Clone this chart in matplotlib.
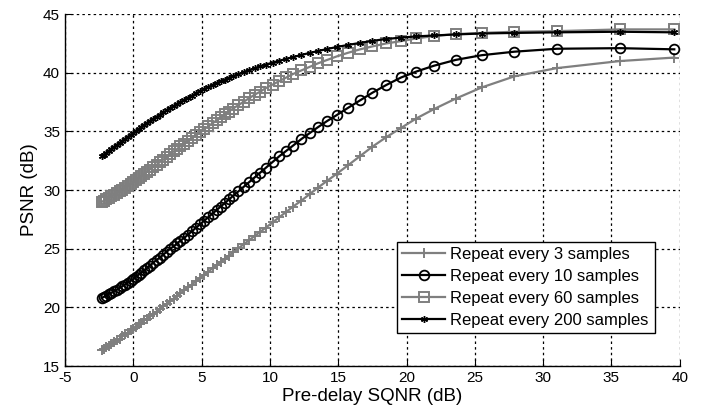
import numpy as np
import matplotlib
matplotlib.use("Agg")
from matplotlib import pyplot as plt

plt.rcParams['font.family'] = ['Liberation Sans', 'DejaVu Sans']
plt.rcParams['axes.unicode_minus'] = False

# pre-delay SQNR (dB), shared by all four curves
sqnr = [39.6, 35.6, 31.0, 27.9, 25.5, 23.6, 22.0, 20.7, 19.6, 18.5,
        17.5, 16.6, 15.7, 14.9, 14.2, 13.5, 12.9, 12.3, 11.7, 11.2,
        10.7, 10.2, 9.7, 9.3, 8.9, 8.5, 8.1, 7.7, 7.3, 7.0,
        6.7, 6.4, 6.1, 5.8, 5.5, 5.2, 4.9, 4.6, 4.3, 4.0,
        3.7, 3.45, 3.2, 2.95, 2.7, 2.45, 2.2, 1.95, 1.7, 1.45,
        1.2, 1.0, 0.8, 0.6, 0.4, 0.2, 0.0, -0.2, -0.4, -0.6,
        -0.8, -1.0, -1.2, -1.4, -1.6, -1.8, -2.0, -2.15, -2.3]

psnr_3 = [41.3, 41.0, 40.4, 39.7, 38.75, 37.8, 36.9, 36.1, 35.3, 34.5,
          33.7, 32.9, 32.1, 31.4, 30.8, 30.2, 29.65, 29.1, 28.6, 28.15,
          27.7, 27.25, 26.8, 26.45, 26.1, 25.75, 25.4, 25.05, 24.7, 24.4,
          24.15, 23.9, 23.6, 23.35, 23.05, 22.8, 22.5, 22.25, 21.95, 21.7,
          21.45, 21.2, 21.0, 20.75, 20.55, 20.3, 20.1, 19.9, 19.65, 19.45,
          19.25, 19.05, 18.9, 18.7, 18.55, 18.35, 18.2, 18.05, 17.85, 17.7,
          17.55, 17.35, 17.2, 17.05, 16.9, 16.75, 16.6, 16.45, 16.35]

psnr_10 = [42.0, 42.1, 42.05, 41.8, 41.5, 41.1, 40.6, 40.1, 39.6, 38.95,
           38.3, 37.65, 37.0, 36.4, 35.9, 35.35, 34.85, 34.35, 33.8, 33.35,
           32.9, 32.4, 31.9, 31.5, 31.1, 30.7, 30.3, 29.9, 29.5, 29.2,
           28.9, 28.6, 28.3, 28.0, 27.7, 27.4, 27.1, 26.8, 26.5, 26.2,
           25.9, 25.7, 25.45, 25.2, 25.0, 24.75, 24.5, 24.25, 24.05, 23.8,
           23.55, 23.35, 23.15, 22.95, 22.8, 22.6, 22.4, 22.25, 22.1, 21.95,
           21.8, 21.65, 21.5, 21.4, 21.25, 21.15, 21.0, 20.9, 20.8]

psnr_60 = [43.7, 43.7, 43.55, 43.5, 43.4, 43.3, 43.13, 42.93, 42.7, 42.5,
           42.25, 42.0, 41.7, 41.4, 41.1, 40.8, 40.5, 40.2, 39.9, 39.6,
           39.3, 39.0, 38.7, 38.4, 38.15, 37.85, 37.55, 37.25, 36.95, 36.7,
           36.45, 36.2, 35.95, 35.7, 35.45, 35.2, 34.95, 34.7, 34.45, 34.2,
           33.95, 33.75, 33.5, 33.3, 33.05, 32.85, 32.6, 32.4, 32.15, 31.95,
           31.75, 31.55, 31.4, 31.2, 31.0, 30.85, 30.65, 30.5, 30.35, 30.2,
           30.05, 29.9, 29.75, 29.6, 29.5, 29.35, 29.2, 29.1, 29.0]

psnr_200 = [43.45, 43.5, 43.45, 43.4, 43.35, 43.27, 43.18, 43.1, 43.0, 42.88,
            42.72, 42.55, 42.37, 42.2, 42.03, 41.85, 41.69, 41.52, 41.34, 41.19,
            41.03, 40.87, 40.7, 40.55, 40.4, 40.24, 40.07, 39.89, 39.71, 39.57,
            39.42, 39.27, 39.12, 38.96, 38.79, 38.62, 38.44, 38.25, 38.06, 37.87,
            37.67, 37.5, 37.33, 37.16, 36.98, 36.8, 36.62, 36.43, 36.24, 36.05,
            35.86, 35.7, 35.54, 35.38, 35.22, 35.06, 34.9, 34.72, 34.54, 34.37,
            34.2, 34.03, 33.86, 33.68, 33.51, 33.34, 33.16, 33.03, 32.9]

labels = ['Repeat every 3 samples', 'Repeat every 10 samples',
          'Repeat every 60 samples', 'Repeat every 200 samples']

gray = '#7f7f7f'
asterisk = (6, 2, 0)

fig = plt.figure(figsize=(7.01, 4.16), dpi=100)
ax = fig.add_axes([0.0927, 0.120, 0.877, 0.846])

ax.plot(sqnr, psnr_3, '-', color=gray, lw=1.6, marker='+', ms=7.5, mew=1.4,
        label=labels[0])
ax.plot(sqnr, psnr_10, '-', color='k', lw=1.6, marker='o', ms=7, mew=1.3,
        mfc='none', label=labels[1])
ax.plot(sqnr, psnr_60, '-', color=gray, lw=1.6, marker='s', ms=7, mew=1.4,
        mfc='none', label=labels[2])
ax.plot(sqnr, psnr_200, '-', color='k', lw=1.6, marker=asterisk, ms=5, mew=1.0,
        label=labels[3])

ax.set_xlim(-5, 40)
ax.set_ylim(15, 45)
ax.set_xticks(np.arange(-5, 41, 5))
ax.set_yticks(np.arange(15, 46, 5))
ax.tick_params(direction='in', length=5, labelsize=11, width=0.8)

ax.grid(True, color='k', linestyle=(0, (2, 2.5)), lw=0.9)
ax.spines['top'].set_visible(False)
ax.spines['right'].set_visible(False)
ax.spines['left'].set_linewidth(1.0)
ax.spines['bottom'].set_linewidth(1.0)

ax.set_xlabel('Pre-delay SQNR (dB)', fontsize=13.5, labelpad=2)
ax.set_ylabel('PSNR (dB)', fontsize=13.5, labelpad=4)

leg = ax.legend(loc='upper left', bbox_to_anchor=(0.54, 0.352, 0.42, 0.0),
                mode='expand', fontsize=12, handlelength=2.6,
                fancybox=False, framealpha=1, borderaxespad=0,
                labelspacing=0.42, handletextpad=0.3, borderpad=0.3)
leg.get_frame().set_edgecolor('k')
leg.get_frame().set_linewidth(1.0)

fig.savefig('out.png', dpi=100)
